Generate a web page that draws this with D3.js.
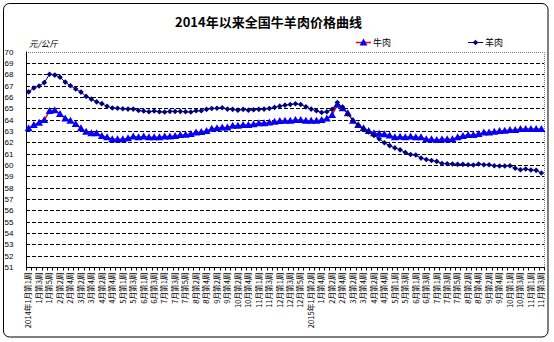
<!DOCTYPE html>
<html>
<head>
<meta charset="utf-8">
<script src="https://cdn.jsdelivr.net/npm/d3@7"></script>
<style>
  html, body { margin: 0; padding: 0; background: #fff; }
  svg { display: block; }
</style>
</head>
<body>
<svg id="chart" width="554" height="342"></svg>
<script>
// Weekly categories, 2014-01 week 1 through 2015-11 week 3
const weeks = [
  "2014年1月第1周","1月第2周","1月第3周","1月第4周","1月第5周",
  "2月第1周","2月第2周","2月第3周","2月第4周",
  "3月第1周","3月第2周","3月第3周","3月第4周",
  "4月第1周","4月第2周","4月第3周","4月第4周","4月第5周",
  "5月第1周","5月第2周","5月第3周","5月第4周",
  "6月第1周","6月第2周","6月第3周","6月第4周",
  "7月第1周","7月第2周","7月第3周","7月第4周","7月第5周",
  "8月第1周","8月第2周","8月第3周","8月第4周",
  "9月第1周","9月第2周","9月第3周","9月第4周",
  "10月第1周","10月第2周","10月第3周","10月第4周","10月第5周",
  "11月第1周","11月第2周","11月第3周","11月第4周",
  "12月第1周","12月第2周","12月第3周","12月第4周","12月第5周",
  "1月第1周","2015年1月第2周","1月第3周","1月第4周",
  "2月第1周","2月第2周","2月第3周","2月第4周",
  "3月第1周","3月第2周","3月第3周","3月第4周",
  "4月第1周","4月第2周","4月第3周","4月第4周","4月第5周",
  "5月第1周","5月第2周","5月第3周","5月第4周",
  "6月第1周","6月第2周","6月第3周","6月第4周",
  "7月第1周","7月第2周","7月第3周","7月第4周","7月第5周",
  "8月第1周","8月第2周","8月第3周","8月第4周",
  "9月第1周","9月第2周","9月第3周","9月第4周","9月第5周",
  "10月第1周","10月第2周","10月第3周","10月第4周",
  "11月第1周","11月第2周","11月第3周"
];

// Beef price, yuan per kg
const beef = [
  63.23,63.52,63.72,63.96,64.75,64.83,64.48,64.10,63.90,63.60,
  63.23,62.93,62.79,62.79,62.56,62.44,62.27,62.27,62.27,62.35,
  62.50,62.44,62.50,62.44,62.44,62.44,62.50,62.50,62.56,62.64,
  62.67,62.73,62.85,62.90,63.00,63.20,63.23,63.29,63.29,63.46,
  63.46,63.52,63.52,63.58,63.67,63.67,63.75,63.81,63.87,63.90,
  63.90,63.96,63.96,63.90,63.90,63.90,63.96,64.10,64.40,65.30,
  65.00,64.55,63.90,63.52,63.23,63.00,62.80,62.75,62.70,62.60,
  62.45,62.48,62.44,62.50,62.44,62.44,62.27,62.27,62.20,62.27,
  62.27,62.27,62.44,62.56,62.64,62.64,62.73,62.85,62.85,62.93,
  63.00,63.02,63.08,63.08,63.17,63.17,63.17,63.17,63.17
];

// Mutton price, yuan per kg
const mutton = [
  66.44,66.78,66.96,67.26,68.00,67.92,67.74,67.30,66.98,66.70,
  66.42,66.04,65.80,65.56,65.40,65.17,65.02,64.99,64.95,64.92,
  64.92,64.80,64.75,64.69,64.75,64.69,64.66,64.72,64.72,64.72,
  64.69,64.66,64.77,64.77,64.90,64.98,65.00,65.04,64.92,64.90,
  64.83,64.90,64.83,64.86,64.90,64.92,64.98,65.07,65.18,65.27,
  65.33,65.39,65.33,65.12,64.92,64.77,64.63,64.69,64.90,65.50,
  65.10,64.50,63.90,63.50,63.20,62.90,62.60,62.30,61.95,61.70,
  61.50,61.33,61.09,60.92,60.87,60.60,60.48,60.39,60.31,60.13,
  60.10,60.08,60.05,60.05,60.02,59.99,60.08,60.02,60.02,59.93,
  59.90,59.90,59.93,59.70,59.58,59.64,59.55,59.52,59.29
];

const yTicks = d3.range(51, 71);
const seriesNames = ["牛肉", "羊肉"];
const titleText = "2014年以来全国牛羊肉价格曲线";
const unitText = "元/公斤";

const svg = d3.select("#chart");
const plot = { left: 26, right: 544, top: 51.5, bottom: 267 };

const x = d3.scaleBand().domain(d3.range(weeks.length)).range([plot.left, plot.right]).paddingInner(0).paddingOuter(0);
const cx = i => x(i) + x.bandwidth() / 2;
const y = d3.scaleLinear().domain([51, 70]).range([plot.bottom, plot.top]);

// chart frame
svg.append("rect")
  .attr("x", 3.5).attr("y", 3.5).attr("width", 544.5).attr("height", 333.5)
  .attr("rx", 6).attr("ry", 6)
  .attr("fill", "#fff").attr("stroke", "#000").attr("stroke-width", 1);

// title
svg.append("text")
  .attr("x", 175).attr("y", 27)
  .attr("textLength", 187).attr("lengthAdjust", "spacing")
  .attr("font-family", "'Noto Sans CJK SC', sans-serif")
  .attr("font-weight", "bold").attr("font-size", 13)
  .text(titleText);

// unit label
svg.append("text")
  .attr("x", 29).attr("y", 46.5)
  .attr("font-family", "'Noto Sans CJK SC', sans-serif")
  .attr("font-style", "italic").attr("font-size", 8.5)
  .text(unitText);

// horizontal gridlines
svg.append("g").selectAll("line")
  .data(yTicks.filter(v => v > 51 && v < 70))
  .join("line")
  .attr("x1", plot.left).attr("x2", plot.right)
  .attr("y1", d => Math.round(y(d)) + 0.5).attr("y2", d => Math.round(y(d)) + 0.5)
  .attr("stroke", "#000").attr("stroke-width", 1)
  .attr("stroke-dasharray", "4,2");

// plot border: dotted top and right
svg.append("path")
  .attr("d", `M${plot.left},${Math.round(plot.top) + 0.5}H${plot.right + 0.5}V${plot.bottom}`)
  .attr("fill", "none").attr("stroke", "#777").attr("stroke-width", 1)
  .attr("stroke-dasharray", "1,1");

// y axis
const yAxis = d3.axisLeft(y).tickValues(yTicks).tickSize(0).tickFormat(d3.format("d"));
const gy = svg.append("g").attr("transform", `translate(${plot.left + 0.5},0)`).call(yAxis);
gy.select(".domain").attr("stroke", "#000").attr("d", `M0,${plot.top}V${plot.bottom}`);
gy.selectAll("text")
  .attr("x", -22).attr("text-anchor", "start")
  .attr("font-family", "'Liberation Sans', Arial, sans-serif")
  .attr("font-size", 8).attr("fill", "#000");

// x axis: category ticks at band edges, labels on every other week
const gx = svg.append("g").attr("transform", `translate(0,${Math.round(plot.bottom) + 0.5})`);
gx.append("line").attr("x1", plot.left).attr("x2", plot.right + 0.5).attr("stroke", "#000");
gx.selectAll("line.tk")
  .data(d3.range(weeks.length + 1))
  .join("line").attr("class", "tk")
  .attr("x1", i => Math.round(plot.left + i * x.step()) + 0.5)
  .attr("x2", i => Math.round(plot.left + i * x.step()) + 0.5)
  .attr("y1", 0).attr("y2", 3)
  .attr("stroke", "#000");
gx.selectAll("text")
  .data(d3.range(0, weeks.length, 2))
  .join("text")
  .attr("transform", i => `translate(${cx(i) + 2.8},5) rotate(-90)`)
  .attr("text-anchor", "end")
  .attr("font-family", "'Noto Sans CJK SC', sans-serif")
  .attr("font-size", 7.6)
  .text(i => weeks[i]);

// series
const line = d3.line().x((d, i) => cx(i)).y(d => y(d));
const triangle = "M0,-4L4,3L-4,3Z";
const diamond = "M0,-2.8L2.8,0L0,2.8L-2.8,0Z";

svg.append("path").datum(beef)
  .attr("d", line).attr("fill", "none")
  .attr("stroke", "#ff0000").attr("stroke-width", 1.5);
svg.append("g").selectAll("path")
  .data(beef).join("path")
  .attr("transform", (d, i) => `translate(${cx(i)},${y(d)})`)
  .attr("d", triangle).attr("fill", "#0000ff");

svg.append("path").datum(mutton)
  .attr("d", line).attr("fill", "none")
  .attr("stroke", "#000080").attr("stroke-width", 1);
svg.append("g").selectAll("path")
  .data(mutton).join("path")
  .attr("transform", (d, i) => `translate(${cx(i)},${y(d)})`)
  .attr("d", diamond).attr("fill", "#000080");

// legend
const legend = svg.append("g");
const legendItems = [
  { name: seriesNames[0], x: 356, stroke: "#ff0000", marker: triangle, fill: "#0000ff", w: 1.5 },
  { name: seriesNames[1], x: 468, stroke: "#000080", marker: diamond, fill: "#000080", w: 1 }
];
legendItems.forEach(it => {
  legend.append("line").attr("x1", it.x).attr("x2", it.x + 15).attr("y1", 42.5).attr("y2", 42.5)
    .attr("stroke", it.stroke).attr("stroke-width", it.w);
  legend.append("path").attr("transform", `translate(${it.x + 7.5},42.5)`).attr("d", it.marker).attr("fill", it.fill);
  legend.append("text").attr("x", it.x + 17).attr("y", 46)
    .attr("font-family", "'Noto Sans CJK SC', sans-serif").attr("font-size", 9)
    .text(it.name);
});
</script>
</body>
</html>
